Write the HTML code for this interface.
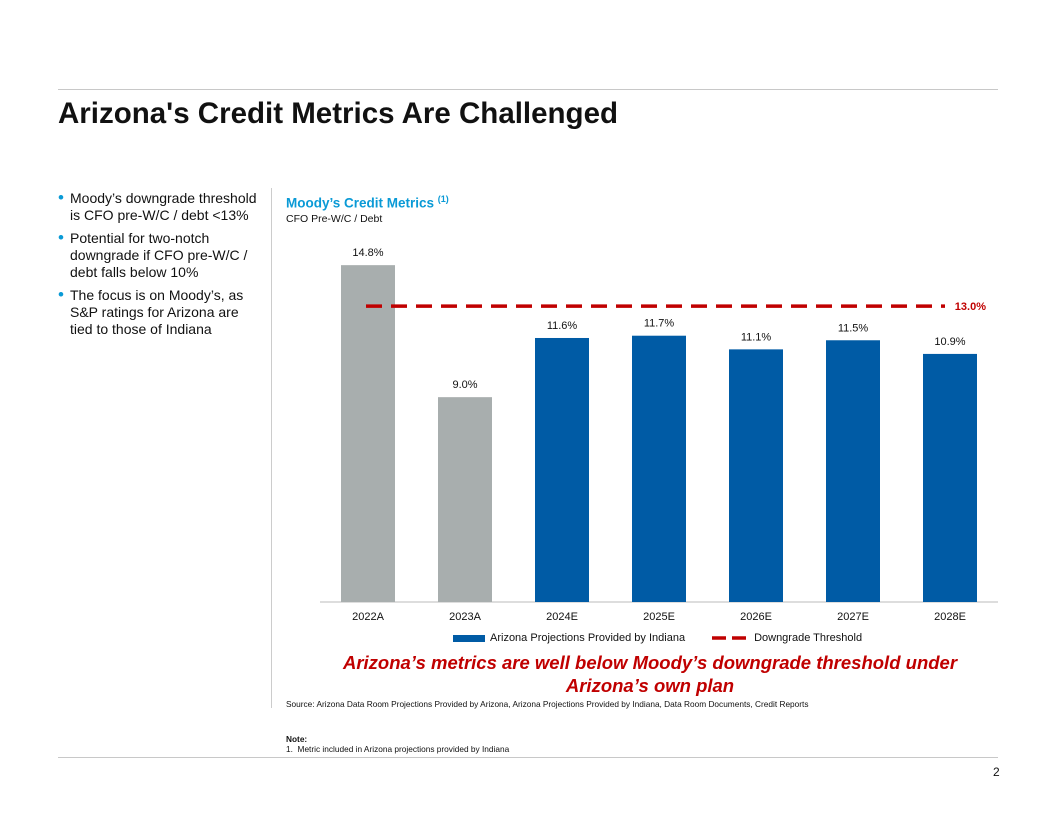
<!DOCTYPE html>
<html><head><meta charset="utf-8"><style>
body{margin:0;width:1056px;height:816px;background:#fff;font-family:"Liberation Sans",Arial,sans-serif;position:relative;overflow:hidden}
.abs{position:absolute}
</style></head><body>
<div class="abs" style="left:58px;top:89px;width:940px;height:1px;background:#c8c8c8"></div>
<div class="abs" style="left:58px;top:97px;font-size:29.5px;font-weight:bold;color:#111">Arizona's Credit Metrics Are Challenged</div>
<div class="abs" style="left:58px;top:190px;width:200px;font-size:14px;line-height:17px;color:#111">
<div style="position:relative;padding-left:12px;margin-bottom:6px"><span style="position:absolute;left:0;top:-1px;font-size:17px;color:#0a9ad6">•</span>Moody’s downgrade threshold is CFO pre-W/C / debt &lt;13%</div>
<div style="position:relative;padding-left:12px;margin-bottom:6px"><span style="position:absolute;left:0;top:-1px;font-size:17px;color:#0a9ad6">•</span>Potential for two-notch downgrade if CFO pre-W/C / debt falls below 10%</div>
<div style="position:relative;padding-left:12px"><span style="position:absolute;left:0;top:-1px;font-size:17px;color:#0a9ad6">•</span>The focus is on Moody’s, as S&amp;P ratings for Arizona are tied to those of Indiana</div>
</div>
<div class="abs" style="left:271px;top:188px;width:1px;height:520px;background:#ccc"></div>
<div class="abs" style="left:286px;top:194px;font-size:13.5px;font-weight:bold;color:#0a9ad6">Moody’s Credit Metrics <sup style="font-size:9px">(1)</sup></div>
<div class="abs" style="left:286px;top:213px;font-size:10.5px;color:#111">CFO Pre-W/C / Debt</div>
<svg class="abs" style="left:0;top:0" width="1056" height="816">
<g id="g"></g>
</svg>
<div class="abs" style="left:453px;top:632px;font-size:11px;color:#111;display:flex;align-items:center">
<span style="display:inline-block;width:32px;height:7px;background:#005ba5;margin-right:5px"></span>Arizona Projections Provided by Indiana
<svg width="34" height="6" style="margin:0 8px 0 27px"><line x1="0" y1="3" x2="34" y2="3" stroke="#c00000" stroke-width="3.5" stroke-dasharray="14,6"/></svg>Downgrade Threshold</div>
<div class="abs" style="left:330px;top:651px;width:640px;text-align:center;font-size:18.5px;font-weight:bold;font-style:italic;color:#c00000;line-height:23px">Arizona’s metrics are well below Moody’s downgrade threshold under Arizona’s own plan</div>
<div class="abs" style="left:286px;top:699px;font-size:8.3px;color:#111">Source: Arizona Data Room Projections Provided by Arizona, Arizona Projections Provided by Indiana, Data Room Documents, Credit Reports</div>
<div class="abs" style="left:286px;top:734px;font-size:8.3px;color:#111;line-height:10px"><b>Note:</b><br>1.&nbsp; Metric included in Arizona projections provided by Indiana</div>
<div class="abs" style="left:58px;top:757px;width:940px;height:1px;background:#c8c8c8"></div>
<div class="abs" style="left:993px;top:765px;font-size:12px;color:#111">2</div>
<script>
const categories=["2022A","2023A","2024E","2025E","2026E","2027E","2028E"];
const values=[14.8,9.0,11.6,11.7,11.1,11.5,10.9];
const actual=[true,true,false,false,false,false,false];
const threshold=13.0;
const NS="http://www.w3.org/2000/svg",g=document.getElementById('g');
const y=v=>602-v*22.76, x=i=>368+i*97;
function mk(t,a){const e=document.createElementNS(NS,t);for(const k in a)e.setAttribute(k,a[k]);g.appendChild(e);return e;}
const ax=mk('line',{x1:320,x2:998,y1:602,y2:602,stroke:'#bbb','stroke-width':1});


categories.forEach((c,i)=>{
 const r=mk('rect',{x:x(i)-27,y:y(values[i]),width:54,height:602-y(values[i]),fill:actual[i]?'#a8aeae':'#005ba5'});
 
 
 const l=mk('text',{x:x(i),y:y(values[i])-9,'text-anchor':'middle','font-size':11,fill:'#111'});
 l.textContent=values[i].toFixed(1)+'%';
 
 
 const t=mk('text',{x:x(i),y:620,'text-anchor':'middle','font-size':11,fill:'#111'});
 t.textContent=c;
 
 
});
const th=mk('line',{x1:366,x2:945,y1:y(threshold),y2:y(threshold),stroke:'#c00000','stroke-width':3.5,'stroke-dasharray':'16,9'});


const tl=mk('text',{x:986,y:y(threshold)+4,'text-anchor':'end','font-size':11,'font-weight':'bold',fill:'#c00000'});
tl.textContent=threshold.toFixed(1)+'%';


</script>
</body></html>
